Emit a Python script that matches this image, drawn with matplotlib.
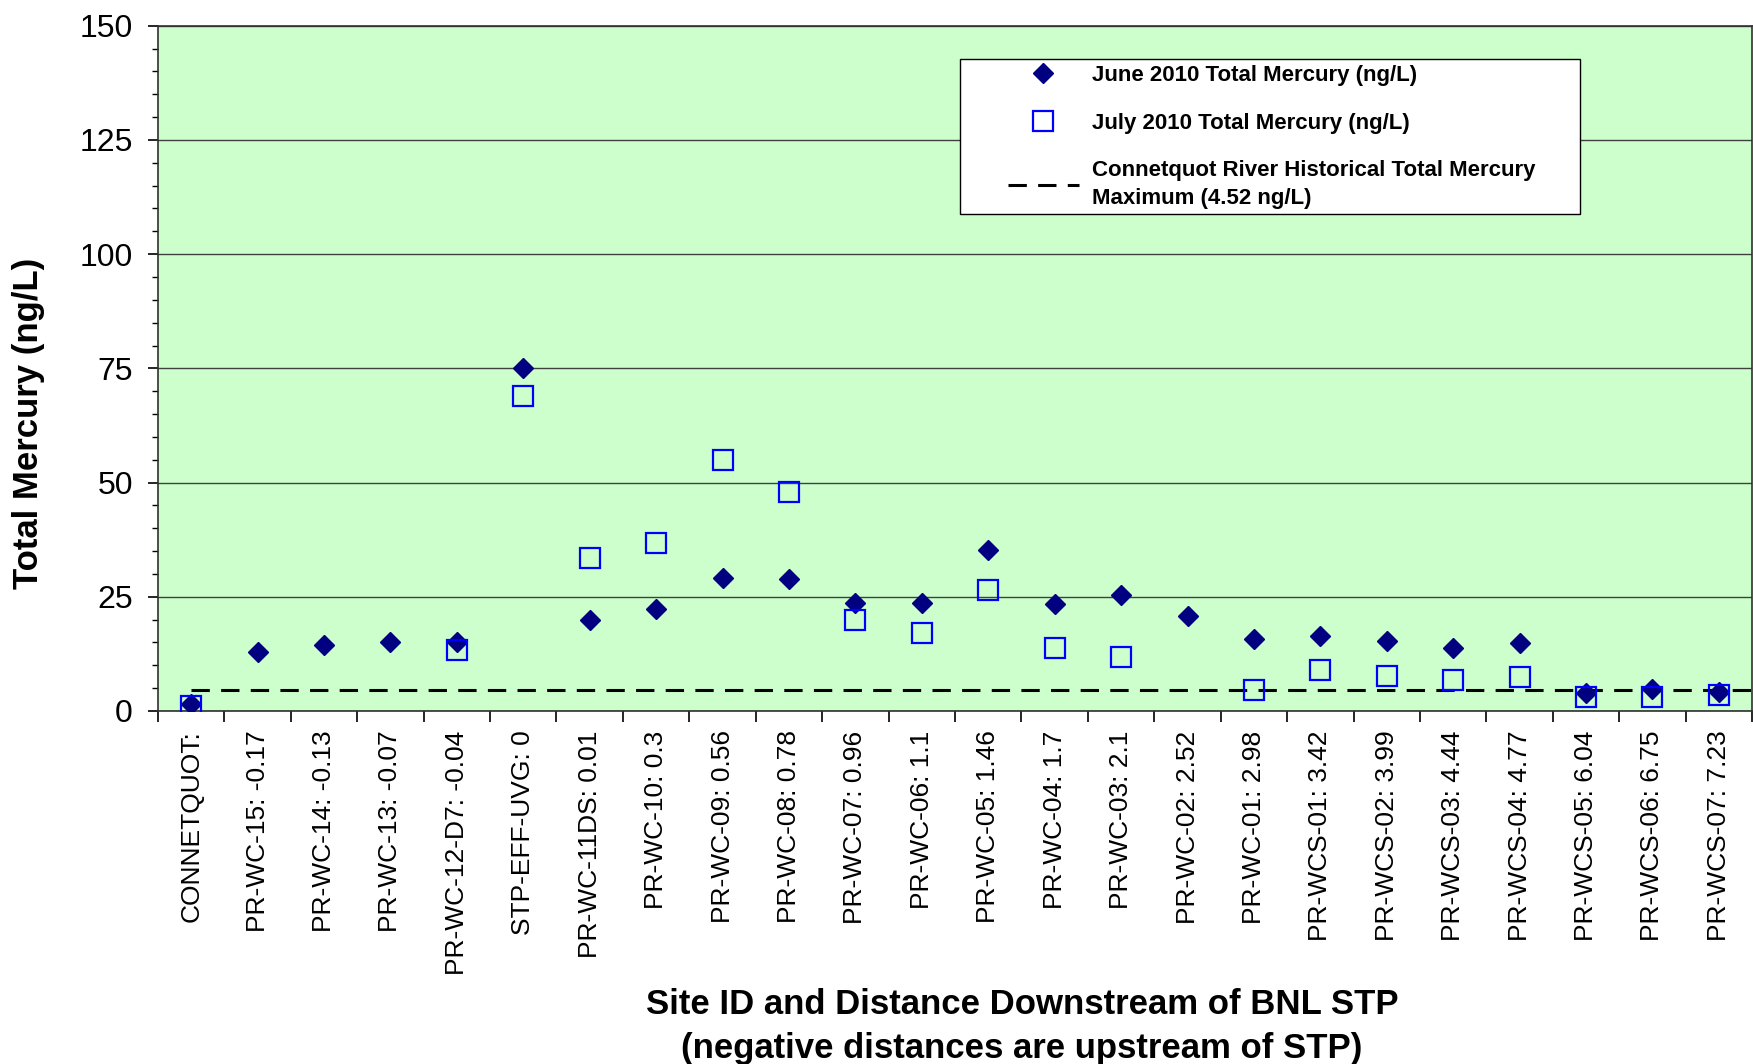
import numpy as np
import matplotlib
matplotlib.use("Agg")
import matplotlib.pyplot as plt
from matplotlib.ticker import MultipleLocator
from matplotlib.legend_handler import HandlerLine2D
from matplotlib.lines import Line2D

plt.rcParams["font.family"] = ["Liberation Sans", "DejaVu Sans"]

# Sites (label: distance downstream of STP)
SITES = [
    "CONNETQUOT:", "PR-WC-15: -0.17", "PR-WC-14: -0.13", "PR-WC-13: -0.07",
    "PR-WC-12-D7: -0.04", "STP-EFF-UVG: 0", "PR-WC-11DS: 0.01", "PR-WC-10: 0.3",
    "PR-WC-09: 0.56", "PR-WC-08: 0.78", "PR-WC-07: 0.96", "PR-WC-06: 1.1",
    "PR-WC-05: 1.46", "PR-WC-04: 1.7", "PR-WC-03: 2.1", "PR-WC-02: 2.52",
    "PR-WC-01: 2.98", "PR-WCS-01: 3.42", "PR-WCS-02: 3.99", "PR-WCS-03: 4.44",
    "PR-WCS-04: 4.77", "PR-WCS-05: 6.04", "PR-WCS-06: 6.75", "PR-WCS-07: 7.23",
]

# Total mercury (ng/L)
june_hg = [1.5, 13.0, 14.5, 15.0, 15.2, 75.0, 19.9, 22.4, 29.2, 28.8, 23.6, 23.6,
           35.2, 23.4, 25.3, 20.7, 15.8, 16.4, 15.3, 13.8, 14.8, 3.9, 4.7, 4.2]
july_hg = [1.0, np.nan, np.nan, np.nan, 13.3, 69.0, 33.4, 36.8, 55.0, 47.9, 20.0, 17.0,
           26.5, 13.8, 11.9, np.nan, 4.5, 8.9, 7.7, 6.7, 7.4, 3.1, 3.1, 3.6]
HIST_MAX = 4.52

x = np.arange(len(SITES))

fig = plt.figure(figsize=(17.53, 10.64), dpi=100)
ax = fig.add_axes([0.0901, 0.3318, 0.9094, 0.644])
ax.set_facecolor("#CCFFCC")

ax.plot(x, june_hg, linestyle="none", marker="D", markersize=10.5,
        color="#000080", label="June 2010 Total Mercury (ng/L)", zorder=4)
ax.plot(x, july_hg, linestyle="none", marker="s", markersize=14,
        markerfacecolor="none", markeredgecolor="#0000FF", markeredgewidth=1.6,
        label="July 2010 Total Mercury (ng/L)", zorder=5)
ax.plot([x[0], len(SITES) - 0.5], [HIST_MAX, HIST_MAX], color="black",
        linewidth=2.2, linestyle=(0, (6, 3.7)),
        label="Connetquot River Historical Total Mercury\nMaximum (4.52 ng/L)", zorder=3)

ax.set_xlim(-0.5, len(SITES) - 0.5)
ax.set_ylim(0, 150)
ax.yaxis.set_major_locator(MultipleLocator(25))
ax.yaxis.set_minor_locator(MultipleLocator(5))
ax.grid(axis="y", which="major", color="#404040", linewidth=1.0)
ax.set_axisbelow(True)

ax.set_xticks(x)
ax.set_xticklabels(SITES, rotation=90, fontsize=19)
ax.set_xticks(np.arange(len(SITES) + 1) - 0.5, minor=True)
ax.tick_params(axis="x", which="major", length=0, pad=14)
ax.tick_params(axis="x", which="minor", length=8, width=1.2, direction="out")
ax.tick_params(axis="y", which="major", labelsize=23, length=7, width=1.2, pad=11)
ax.tick_params(axis="y", which="minor", length=4, width=1.0)

for side in ["left", "bottom", "top", "right"]:
    ax.spines[side].set_color("#303030")
    ax.spines[side].set_linewidth(1.2)

ax.set_ylabel("Total Mercury (ng/L)", fontsize=25, fontweight="bold")
ax.yaxis.set_label_coords(-0.071, 0.42)
ax.set_xlabel("Site ID and Distance Downstream of BNL STP\n(negative distances are upstream of STP)",
              fontsize=25, fontweight="bold", linespacing=1.4)
ax.xaxis.set_label_coords(0.542, -0.405)

pad_handler = HandlerLine2D(xpad=1.9)
leg = ax.legend(loc="upper left", bbox_to_anchor=(0.503, 0.951, 0.389, 0.0), mode="expand",
                borderaxespad=0, fancybox=False, framealpha=1, edgecolor="black",
                facecolor="white", prop={"size": 16, "weight": "bold"},
                labelspacing=1.2, handlelength=5.1, handletextpad=0.6, borderpad=0.25,
                handler_map={Line2D: pad_handler})
leg.get_frame().set_linewidth(1.0)
for t in leg.get_texts():
    t.set_linespacing(1.4)

fig.savefig("out.png", dpi=100)
